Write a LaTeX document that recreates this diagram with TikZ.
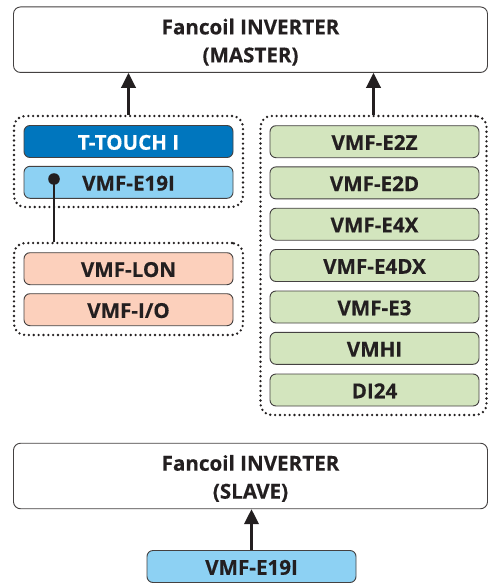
\documentclass[tikz,border=0pt]{standalone}
\usepackage{fontspec}
\setmainfont{Open Sans}[BoldFeatures={FakeBold=0.35}]
\usetikzlibrary{arrows.meta}
\definecolor{ink}{HTML}{231F20}
\definecolor{tblue}{HTML}{0076BE}
\definecolor{lblue}{HTML}{8DD1F3}
\definecolor{lgreen}{HTML}{D3E5BE}
\definecolor{lpink}{HTML}{FCD0BC}
\newcommand{\firstline}{\rule{0pt}{20.6pt}}
\tikzset{
  x=1pt,y=-1pt,
  base/.style={rectangle,inner sep=0pt,text=ink,align=center,font=\bfseries\fontsize{20.6}{28}\selectfont},
  unit/.style={base,rounded corners=6pt,draw=ink!85,line width=0.9pt,minimum width=209pt,minimum height=32pt,text height=16.5pt,text depth=0pt},
  fancoil/.style={base,rounded corners=7pt,draw=ink!85,line width=0.9pt,fill=white,minimum width=474pt,minimum height=65.5pt},
  group/.style={rectangle,rounded corners=11pt,draw=ink,line width=2.6pt,line cap=round,dash pattern=on 0pt off 4.85pt,inner sep=0pt},
  link/.style={draw=ink,line width=2.4pt},
  flow/.style={link,-{Triangle[length=15pt,width=14.5pt]}}
}
\begin{document}
\begin{tikzpicture}
\useasboundingbox (0,0) rectangle (487,583);
\fill[white] (0,0) rectangle (487,583);
\node[group,minimum width=229pt,minimum height=91pt] (g1) at (128.5,161.5) {};
\node[group,minimum width=229pt,minimum height=92pt] (g2) at (128.5,289) {};
\node[group,minimum width=226pt,minimum height=299pt] (g3) at (373.5,265.5) {};
\node[fancoil] (master) at (250.5,39.7) {\firstline Fancoil INVERTER\\(MASTER)};
\node[fancoil] (slave) at (250.5,476) {\firstline Fancoil INVERTER\\(SLAVE)};
\node[unit,fill=tblue,text=white] (ttouch) at (128.5,141.5) {T-TOUCH I};
\node[unit,fill=lblue] (e19) at (128.5,182.3) {VMF-E19I};
\node[unit,fill=lpink] (lon) at (128.5,268.7) {VMF-LON};
\node[unit,fill=lpink] (io) at (128.5,309.7) {VMF-I/O};
\node[unit,fill=lgreen] (e2z) at (374.5,141.7) {VMF-E2Z};
\node[unit,fill=lgreen] (e2d) at (374.5,182.9) {VMF-E2D};
\node[unit,fill=lgreen] (e4x) at (374.5,224.2) {VMF-E4X};
\node[unit,fill=lgreen] (e4dx) at (374.5,265.5) {VMF-E4DX};
\node[unit,fill=lgreen] (e3) at (374.5,307) {VMF-E3};
\node[unit,fill=lgreen] (vmhi) at (374.5,348.3) {VMHI};
\node[unit,fill=lgreen] (di) at (374.5,390) {DI24};
\node[unit,fill=lblue] (e19s) at (251.5,566.5) {VMF-E19I};
\draw[flow] (g1.north) -- (g1.north |- master.south);
\draw[flow] (g3.north) -- (g3.north |- master.south);
\draw[flow] (e19s.north) -- (e19s.north |- slave.south);
\coordinate (tap) at (54,179);
\draw[link] (tap) -- (tap |- g2.north);
\fill[ink] (tap) circle (5.8pt);
\end{tikzpicture}
\end{document}
